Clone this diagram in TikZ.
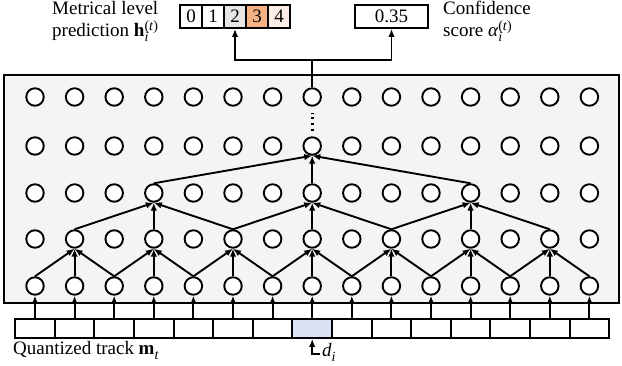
\documentclass[tikz,border=0pt]{standalone}
\usepackage{fontspec}
\setmainfont{Liberation Serif}
\usetikzlibrary{arrows.meta}
\definecolor{panelgray}{HTML}{F4F4F4}
\definecolor{hlblue}{HTML}{DAE3F3}
\definecolor{hlgray}{HTML}{E7E6E6}
\definecolor{hlorange}{HTML}{F4B183}
\definecolor{hlpeach}{HTML}{FCEEE6}
\newcommand{\subsup}[2]{\rlap{\raisebox{-4.5pt}{\fontsize{14}{14}\selectfont #1}}\raisebox{6pt}{\fontsize{14}{14}\selectfont #2}}
\tikzset{
  lw/.style={line width=1.9pt},
  neuron/.style={circle, draw, lw, fill=white, minimum size=17.5pt, inner sep=0pt},
  cellbox/.style={rectangle, draw, lw, fill=white, minimum width=39.6pt, minimum height=19pt, inner sep=0pt},
  topcell/.style={rectangle, draw, lw, fill=white, minimum width=22pt, minimum height=23pt, inner sep=0pt},
  panel/.style={rectangle, draw, lw, fill=panelgray, minimum width=615pt, minimum height=228pt, inner sep=0pt},
  arr/.style={lw, -{Latex[length=8pt,width=6.5pt]}},
  conn/.style={lw},
  lbl/.style={inner sep=0pt, anchor=base west},
}
\begin{document}
\begin{tikzpicture}[x=1pt,y=-1pt, font=\fontsize{19}{20}\selectfont]
\useasboundingbox (0,0) rectangle (622,366);

% panel
\node[panel] (panel) at (311.5,189) {};

% neurons
\foreach \r/\yy in {1/97,2/146,3/193,4/239,5/286}{
  \foreach \k in {0,...,14}{
    \node[neuron] (n\r-\k) at ({35+39.6*\k},\yy) {};
  }
}

% track cells
\foreach \k in {0,...,14}{
  \node[cellbox] (c\k) at ({35+39.6*\k},328.5) {};
}
\node[cellbox, fill=hlblue] (c7) at ({35+39.6*7},328.5) {};

% cells -> row 5
\foreach \k in {0,...,14}{
  \draw[arr] (c\k.north) -- (n5-\k.south);
}
% row 5 -> row 4
\foreach \k in {1,3,...,13}{
  \pgfmathtruncatemacro{\a}{\k-1}
  \pgfmathtruncatemacro{\b}{\k+1}
  \draw[arr] (n5-\a.north) -- (n4-\k.south);
  \draw[arr] (n5-\k.north) -- (n4-\k.south);
  \draw[arr] (n5-\b.north) -- (n4-\k.south);
}
% row 4 -> row 3
\foreach \k in {3,7,11}{
  \pgfmathtruncatemacro{\a}{\k-2}
  \pgfmathtruncatemacro{\b}{\k+2}
  \draw[arr] (n4-\a.north) -- (n3-\k.south);
  \draw[arr] (n4-\k.north) -- (n3-\k.south);
  \draw[arr] (n4-\b.north) -- (n3-\k.south);
}
% row 3 -> row 2
\draw[arr] (n3-3.north) -- (n2-7.south);
\draw[arr] (n3-7.north) -- (n2-7.south);
\draw[arr] (n3-11.north) -- (n2-7.south);

% dots between row 2 and row 1
\draw[line width=2.6pt, dash pattern=on 2.5pt off 3.5pt, shorten <=5pt, shorten >=6pt] (n2-7.north) -- (n1-7.south);

% top outputs
\node[topcell] (t0) at (191,16.5) {0};
\node[topcell] (t1) at (213,16.5) {1};
\node[topcell, fill=hlgray] (t2) at (235,16.5) {2};
\node[topcell, fill=hlorange] (t3) at (257,16.5) {3};
\node[topcell, fill=hlpeach] (t4) at (279,16.5) {4};
\node[topcell, minimum width=73pt] (conf) at (391.5,16.5) {0.35};

\coordinate (split) at (n1-7.north |- 0,60);
\draw[conn] (n1-7.north) -- (split);
\draw[arr] (split) -| (t2.south);
\draw[arr] (split) -| (conf.south);

% labels
\node[lbl] (ml1) at (52,15) {Metrical level};
\node[lbl] (ml2) at (52,37) {prediction {\bfseries h}\subsup{\textit{i}}{(\textit{t})}};
\node[lbl] (cf1) at (443,15) {Confidence};
\node[lbl] (cf2) at (443,37) {score \textit{α}\subsup{\textit{i}}{(\textit{t})}};
\node[lbl] (qt) at (13,355) {Quantized track {\bfseries m}\raisebox{-4.5pt}{\fontsize{14}{14}\selectfont\textit{t}}};

% d_i pointer
\coordinate (dend) at (320,354);
\draw[arr] (dend) -| (c7.south);
\node[lbl] (di) at (322,357) {\textit{d}\raisebox{-4.5pt}{\fontsize{14}{14}\selectfont\textit{i}}};
\end{tikzpicture}
\end{document}
